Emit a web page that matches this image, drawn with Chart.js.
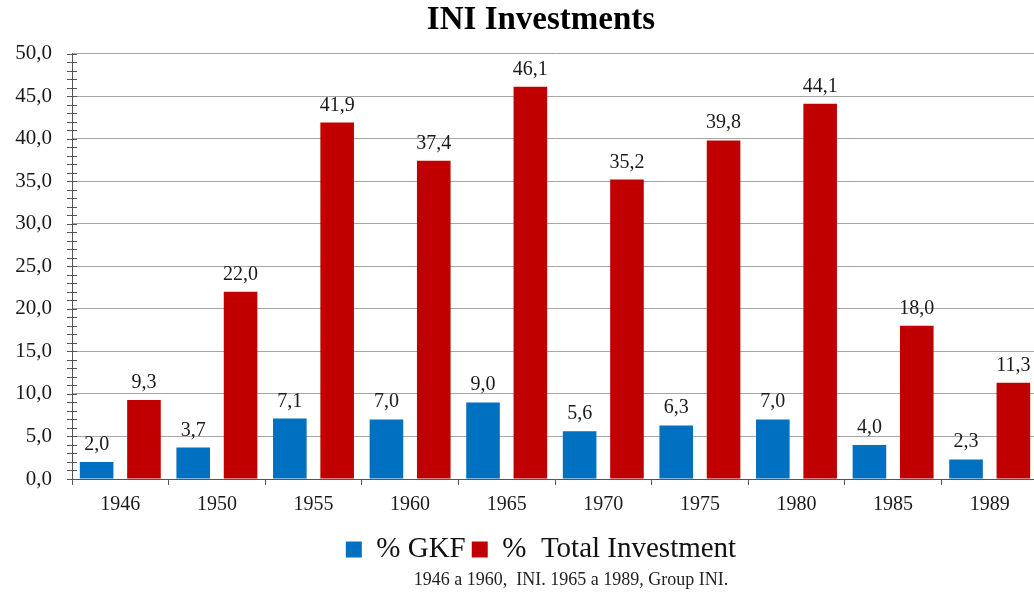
<!DOCTYPE html>
<html lang="en">
<head>
  <meta charset="UTF-8" />
  <title>INI Investments</title>
  <script src="https://cdn.jsdelivr.net/npm/chart.js"></script>
  <style>
    body {margin:0; background:#fff; overflow:hidden;}
    /* the original picture is cropped on the right, so the chart is a bit wider than the window */
    #clip {width:1034px; height:599px; overflow:hidden;}
    #wrap {width:1082px; height:599px; position:relative;}
  </style>
</head>
<body>
  <div id="clip"><div id="wrap"><canvas id="chart"></canvas></div></div>

  <script>
    // data
    const years = ['1946','1950','1955','1960','1965','1970','1975','1980','1985','1989'];
    const gkf = [2.0, 3.7, 7.1, 7.0, 9.0, 5.6, 6.3, 7.0, 4.0, 2.3];
    const totalInv = [9.3, 22.0, 41.9, 37.4, 46.1, 35.2, 39.8, 44.1, 18.0, 11.3];
    const seriesNames = ['% GKF', '%  Total Investment'];
    const source = '1946 a 1960,  INI. 1965 a 1989, Group INI.';

    const serif = "'Liberation Serif', 'Times New Roman', serif";
    const fmt = v => v.toFixed(1).replace('.', ',');

    // value labels over the bars
    const barLabels = {
      id: 'barLabels',
      afterDatasetsDraw(chart) {
        const ctx = chart.ctx;
        ctx.save();
        ctx.font = '20px ' + serif;
        ctx.fillStyle = '#1a1a1a';
        ctx.textAlign = 'center';
        ctx.textBaseline = 'alphabetic';
        chart.data.datasets.forEach((ds, i) => {
          chart.getDatasetMeta(i).data.forEach((bar, j) => {
            ctx.fillText(fmt(ds.data[j]), bar.x, bar.y - 12);
          });
        });
        ctx.restore();
      }
    };

    // small ticks across the y axis, one per unit
    const minorTicks = {
      id: 'minorTicks',
      afterDraw(chart) {
        const y = chart.scales.y, ctx = chart.ctx;
        const x0 = y.right;
        ctx.save();
        ctx.strokeStyle = '#555';
        ctx.lineWidth = 1;
        for (let v = y.min; v <= y.max; v++) {
          const py = Math.round(y.getPixelForValue(v)) + 0.5;
          ctx.beginPath();
          ctx.moveTo(x0 - 5, py);
          ctx.lineTo(x0 + 5, py);
          ctx.stroke();
        }
        ctx.restore();
      }
    };

    // source note, sits a little right of centre like the original
    const sourceNote = {
      id: 'sourceNote',
      afterDraw(chart) {
        const ctx = chart.ctx;
        ctx.save();
        ctx.font = '18px ' + serif;
        ctx.fillStyle = '#222';
        ctx.textAlign = 'center';
        ctx.textBaseline = 'middle';
        ctx.fillText(source, chart.width / 2 + 30, chart.height - 19);
        ctx.restore();
      }
    };

    new Chart(document.getElementById('chart'), {
      type: 'bar',
      data: {
        labels: years,
        datasets: [
          {label: seriesNames[0], data: gkf, backgroundColor: '#0070C0'},
          {label: seriesNames[1], data: totalInv, backgroundColor: '#C00000'}
        ]
      },
      options: {
        responsive: true,
        maintainAspectRatio: false,
        animation: false,
        layout: {padding: {top: 0, left: 0, right: 0, bottom: 25}},
        datasets: {bar: {categoryPercentage: 0.98, barPercentage: 0.71}},
        scales: {
          x: {
            afterFit: s => { s.height = 50; },
            grid: {offset: true, drawOnChartArea: false, tickLength: 6, color: '#555'},
            border: {color: '#555'},
            ticks: {font: {family: serif, size: 20}, color: '#1a1a1a', padding: 8}
          },
          y: {
            min: 0, max: 50,
            afterFit: s => { s.width = 72; },
            ticks: {stepSize: 5, callback: v => fmt(v), font: {family: serif, size: 21}, color: '#1a1a1a', padding: 20},
            grid: {color: '#a6a6a6', drawTicks: false},
            border: {color: '#555'}
          },
          // empty strip on the right, the part cropped away in the original
          pad: {
            type: 'linear', position: 'right', display: true,
            afterFit: s => { s.width = 44; },
            ticks: {display: false},
            grid: {display: false, drawTicks: false},
            border: {display: false}
          }
        },
        plugins: {
          title: {
            display: true, text: 'INI Investments', color: '#000',
            font: {family: serif, size: 33, weight: 'bold'},
            padding: {top: 1, bottom: 13}
          },
          legend: {
            position: 'bottom',
            labels: {font: {family: serif, size: 29}, color: '#111', boxWidth: 16, boxHeight: 16, padding: 6}
          },
          tooltip: {enabled: false}
        }
      },
      plugins: [barLabels, minorTicks, sourceNote]
    });
  </script>
</body>
</html>
